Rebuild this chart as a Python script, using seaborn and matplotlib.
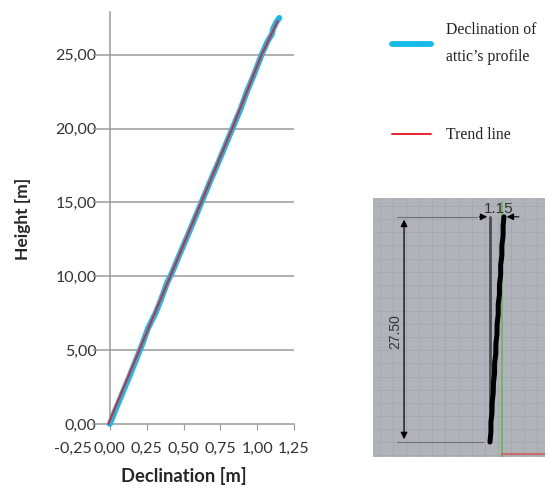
import matplotlib
matplotlib.use("Agg")
import matplotlib.pyplot as plt
import seaborn as sns
import pandas as pd

# profile
height = [0.0, 1.0, 2.2, 3.4, 4.4, 5.4, 6.5, 7.5, 8.5, 9.6, 10.2, 11.4, 12.8, 14.0, 15.2, 16.4, 17.8,
          19.0, 20.2, 21.4, 22.5, 23.7, 25.0, 25.9, 26.4, 26.8, 27.2, 27.5]
declination = [0.0, 0.04, 0.09, 0.14, 0.18, 0.22, 0.26, 0.31, 0.35, 0.39, 0.42, 0.47, 0.53, 0.58, 0.63, 0.68, 0.74,
               0.79, 0.84, 0.89, 0.93, 0.98, 1.03, 1.07, 1.1, 1.11, 1.13, 1.15]
trend_x = [-0.01, 0.2, 0.41, 0.62, 0.83, 1.03, 1.14]
trend_y = [0.0, 5.0, 10.0, 15.0, 20.0, 25.0, 27.3]

x_ticks = [-0.25, 0.0, 0.25, 0.5, 0.75, 1.0, 1.25]
y_ticks = [0, 5, 10, 15, 20, 25]

# small drawing next to the chart
inset_wall_x = [0.0, 0.0]
inset_wall_y = [0.0, 27.5]
inset_y = [0.0, 1.2, 2.4, 3.6, 4.8, 6.0, 7.2, 8.4, 9.6, 10.8, 12.0, 13.2, 14.4, 15.6, 16.8, 18.0, 19.2, 20.4,
           21.6, 22.8, 24.0, 25.2, 26.4, 27.5]
inset_x = [0.0, 0.08, 0.08, 0.17, 0.18, 0.27, 0.29, 0.38, 0.38, 0.48, 0.49, 0.58, 0.59, 0.68, 0.68, 0.78,
           0.78, 0.88, 0.88, 0.98, 0.98, 1.08, 1.08, 1.15]

W, H = 548, 488
sns.set_style("white")
fig = plt.figure(figsize=(W / 100, H / 100), dpi=100)


def box(x0, y0, x1, y1):
    return [x0 / W, 1 - y1 / H, (x1 - x0) / W, (y1 - y0) / H]


ax = fig.add_axes(box(73, 12, 294, 424))
df = pd.DataFrame({"d": declination, "h": height})
trend = pd.DataFrame({"d": trend_x, "h": trend_y})
sns.lineplot(data=df, x="d", y="h", sort=False, estimator=None, color="#14bbe9", linewidth=4.2,
             solid_capstyle="round", label="Declination of\nattic\u2019s profile", ax=ax, clip_on=False, zorder=3)
sns.lineplot(data=trend, x="d", y="h", sort=False, estimator=None, color="#e8202f", linewidth=1.4,
             label="Trend line", ax=ax, clip_on=False, zorder=4)

ax.set_xlim(-0.25, 1.25)
ax.set_ylim(0, 27.9)
ax.set_xticks(x_ticks)
ax.set_yticks(y_ticks)
ax.set_xticklabels([f"{t:.2f}".replace(".", ",") for t in x_ticks])
ax.set_yticklabels([f"{t:.2f}".replace(".", ",") for t in y_ticks])
# horizontal lines stop at the tick labels, not at the left edge
ax.hlines(y_ticks[1:], -0.115, 1.25, color="#9a9a9a", linewidth=1.1, zorder=1)
ax.spines["top"].set_visible(False)
ax.spines["right"].set_visible(False)
ax.spines["left"].set_position(("data", 0))
ax.spines["bottom"].set_bounds(-0.115, 1.25)
for s in ["left", "bottom"]:
    ax.spines[s].set_color("#9a9a9a")
    ax.spines[s].set_linewidth(1.1)
ax.tick_params(axis="x", bottom=True, length=4, color="#9a9a9a", labelsize=11.5, labelcolor="#333333",
               pad=9, labelfontfamily="Lato")
ax.tick_params(axis="y", left=False, labelsize=11.5, labelcolor="#333333", pad=6, labelfontfamily="Lato")
ax.xaxis.get_major_ticks()[0].tick1line.set_visible(False)
ax.set_xlabel("Declination [m]", fontsize=13.2, fontweight="bold", fontfamily="Lato", color="#262626", labelpad=8)
ax.set_ylabel("")
fig.text(23 / W, 1 - 219 / H, "Height [m]", rotation=90, ha="center", va="center", fontsize=12.5,
         fontweight="bold", fontfamily="Lato", color="#262626")

ax.legend(loc="upper left", bbox_to_anchor=(392 / W, 1 - 22 / H), bbox_transform=fig.transFigure,
          frameon=False, handlelength=2.5, handletextpad=0.95, labelspacing=3.95, borderpad=0, borderaxespad=0,
          prop={"family": "Liberation Serif", "size": 11.3}, labelcolor="#222222")
for txt in ax.get_legend().get_texts():
    txt.set_linespacing(1.95)

# inset, in metres like the drawing's dimensions
ax2 = fig.add_axes(box(373, 198, 545, 457))
ax2.set_facecolor("#b0b4ba")
ax2.set_xlim(-9.6, 4.52)
ax2.set_ylim(-1.83, 29.8)
ax2.set_xticks([v * 1.07 - 9.0 for v in range(0, 13)])
ax2.set_yticks([v * 1.6 - 1.6 for v in range(0, 20)])
ax2.grid(True, color="#a4a9af", linewidth=0.6)
ax2.tick_params(left=False, bottom=False, labelleft=False, labelbottom=False)
for s in ax2.spines.values():
    s.set_visible(False)
sns.lineplot(x=inset_wall_x, y=inset_wall_y, sort=False, estimator=None, color="#4a4d50", linewidth=2.0, ax=ax2)
sns.lineplot(x=inset_x, y=inset_y, sort=False, estimator=None, color="black", linewidth=3.6, ax=ax2)
ax2.axvline(1.0, color="#6fb35f", linewidth=1.3, ymin=0.0, ymax=0.985, zorder=1.5)
ax2.plot([1.0, 4.52], [-1.5, -1.5], color="#d0605a", linewidth=1.2)
ax2.plot([-7.6, -1.1], [27.5, 27.5], color="#6d7074", linewidth=0.8)
ax2.plot([-7.6, -0.6], [0.0, 0.0], color="#6d7074", linewidth=0.8)
ax2.annotate("", xy=(-7.05, 27.5), xytext=(-7.05, 0.0), arrowprops=dict(arrowstyle="<|-|>", color="black", lw=0.9))
ax2.annotate("", xy=(0.0, 27.5), xytext=(-1.1, 27.5), arrowprops=dict(arrowstyle="-|>", color="black", lw=0.8))
ax2.annotate("", xy=(1.15, 27.5), xytext=(2.6, 27.5), arrowprops=dict(arrowstyle="-|>", color="black", lw=0.8))
ax2.text(0.75, 28.5, "1.15", ha="center", va="center", fontsize=11, color="#333333", fontfamily="Liberation Sans")
ax2.text(-7.75, 13.5, "27.50", ha="center", va="center", rotation=90, fontsize=10, color="#333333",
         fontfamily="Liberation Sans")

fig.savefig("out.png", dpi=100)
